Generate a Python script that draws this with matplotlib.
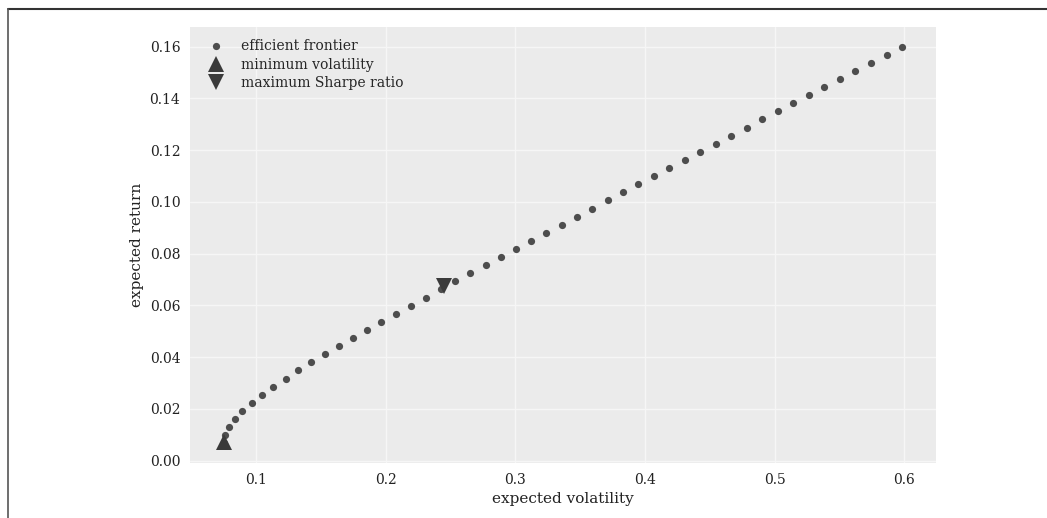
import matplotlib
matplotlib.use('Agg')
import matplotlib.pyplot as plt
from matplotlib.lines import Line2D

plt.style.use('seaborn-v0_8')
plt.rcParams['font.family'] = 'serif'

# efficient frontier points
tvols = [0.0750, 0.0760, 0.0788, 0.0834, 0.0893, 0.0964, 0.1045, 0.1132,
         0.1226, 0.1324, 0.1425, 0.1530, 0.1636, 0.1745, 0.1855, 0.1966,
         0.2079, 0.2192, 0.2307, 0.2422, 0.2537, 0.2653, 0.2770, 0.2886,
         0.3004, 0.3121, 0.3239, 0.3357, 0.3475, 0.3594, 0.3712, 0.3831,
         0.3950, 0.4069, 0.4188, 0.4307, 0.4427, 0.4546, 0.4666, 0.4785,
         0.4905, 0.5025, 0.5145, 0.5265, 0.5385, 0.5505, 0.5625, 0.5745,
         0.5865, 0.5985]
trets = [0.0067, 0.0098, 0.0130, 0.0161, 0.0192, 0.0223, 0.0255, 0.0286,
         0.0317, 0.0349, 0.0380, 0.0411, 0.0442, 0.0474, 0.0505, 0.0536,
         0.0568, 0.0599, 0.0630, 0.0662, 0.0693, 0.0724, 0.0755, 0.0787,
         0.0818, 0.0849, 0.0881, 0.0912, 0.0943, 0.0974, 0.1006, 0.1037,
         0.1068, 0.1100, 0.1131, 0.1162, 0.1193, 0.1225, 0.1256, 0.1287,
         0.1319, 0.1350, 0.1381, 0.1413, 0.1444, 0.1475, 0.1507, 0.1538,
         0.1569, 0.1600]

# special portfolios (volatility, return)
min_vol = (0.0750, 0.0070)
max_sharpe = (0.2450, 0.0675)

fig = plt.figure(figsize=(10.47, 5.18), dpi=100)
ax = fig.add_axes([0.1815, 0.106, 0.7125, 0.842])
ax.set_facecolor('#ebebeb')
ax.grid(True, color='#f6f6f6', linewidth=1.0)

ax.plot(tvols, trets, 'o', color='#4d4d4d', ms=5.2, mew=0,
        label='efficient frontier')
ax.plot(min_vol[0], min_vol[1], '^', color='#3a3a3a', ms=12, mew=0,
        label='minimum volatility')
ax.plot(max_sharpe[0], max_sharpe[1], 'v', color='#3a3a3a', ms=12, mew=0,
        label='maximum Sharpe ratio')

ax.set_xlabel('expected volatility', fontsize=11, color='#222222')
ax.set_ylabel('expected return', fontsize=11, color='#222222')
ax.set_xticks([0.1, 0.2, 0.3, 0.4, 0.5, 0.6])
ax.set_xticklabels(['0.1', '0.2', '0.3', '0.4', '0.5', '0.6'])
ax.set_yticks([0.00, 0.02, 0.04, 0.06, 0.08, 0.10, 0.12, 0.14, 0.16])
ax.set_yticklabels(['%.2f' % v for v in ax.get_yticks()])
ax.tick_params(labelsize=10, colors='#222222')
ax.legend(loc='upper left', frameon=False, fontsize=10,
          handletextpad=0.8, labelspacing=0.3)

# page frame lines (top and left)
fig.add_artist(Line2D([8 / 1047, 1], [1 - 9 / 518, 1 - 9 / 518],
                      color='#333333', lw=1.5, transform=fig.transFigure))
fig.add_artist(Line2D([8 / 1047, 8 / 1047], [0, 1 - 9 / 518],
                      color='#555555', lw=1.2, transform=fig.transFigure))

fig.savefig('out.png', dpi=100)
